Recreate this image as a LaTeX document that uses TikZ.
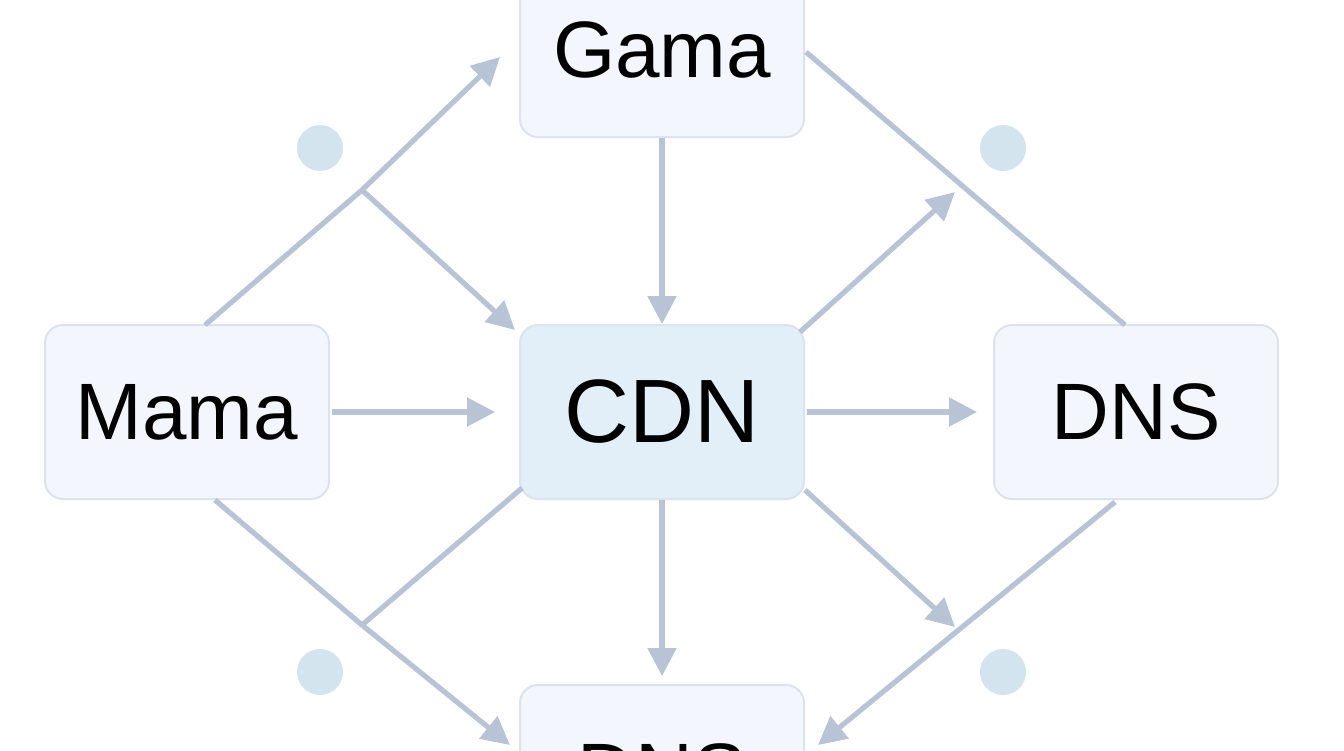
\documentclass[tikz,border=0pt]{standalone}
\usepackage{fontspec}
\setmainfont{Liberation Sans}
\usetikzlibrary{arrows.meta}
\definecolor{linegray}{HTML}{B9C3D6}
\definecolor{boxfill}{HTML}{F3F6FC}
\definecolor{boxline}{HTML}{DCE2EE}
\definecolor{cdnfill}{HTML}{E2EFF8}
\definecolor{dotblue}{HTML}{D3E4EF}
\tikzset{
  box/.style={draw=boxline, line width=1pt, fill=boxfill, rounded corners=9pt,
    minimum width=142pt, minimum height=87pt, inner sep=0pt, font=\fontsize{40}{44}\selectfont},
  link/.style={draw=linegray, line width=2.6pt},
  flow/.style={link, -{Triangle[length=14pt,width=14pt]}},
  spot/.style={circle, fill=dotblue, minimum size=23pt, inner sep=0pt}
}
\begin{document}
\begin{tikzpicture}[x=0.5pt,y=-0.5pt]
  \useasboundingbox (0,0) rectangle (1344,750);
  \fill[white] (0,0) rectangle (1344,750);

  \node[box, minimum height=87pt] (gama) at (662,50) {Gama};
  \node[box] (mama) at (187,412) {Mama};
  \node[box, fill=cdnfill, font=\fontsize{45}{50}\selectfont] (cdn) at (662,412) {CDN};
  \node[box] (dns) at (1136,412) {DNS};
  \node[box] (dnsb) at (662,772) {DNS};

  \node[spot] (s1) at (320,148) {};
  \node[spot] (s2) at (1003,148) {};
  \node[spot] (s3) at (320,672) {};
  \node[spot] (s4) at (1003,672) {};

  \coordinate (ja) at (362,190);
  \coordinate (jb) at (362,625);

  % upper half
  \draw[flow] (205,325) -- (ja) -- (500,57);
  \draw[flow] (ja) -- (515,330);
  \draw[flow] (gama.south) -- (cdn.north);
  \draw[link] (806,52) -- (1125,325);
  \draw[flow] (800,332) -- (955,192);

  % middle row
  \draw[flow] (mama.east) ++(2,0) -- ([xshift=-12pt]cdn.west);
  \draw[flow] (cdn.east) ++(2,0) -- ([xshift=-8pt]dns.west);

  % lower half
  \draw[flow] (215,500) -- (jb) -- (510,745);
  \draw[link] (jb) -- (522,488);
  \draw[flow] (cdn.south) -- ([yshift=4pt]dnsb.north);
  \draw[flow] (805,490) -- (955,627);
  \draw[flow] (1115,502) -- (818,745);
\end{tikzpicture}
\end{document}
